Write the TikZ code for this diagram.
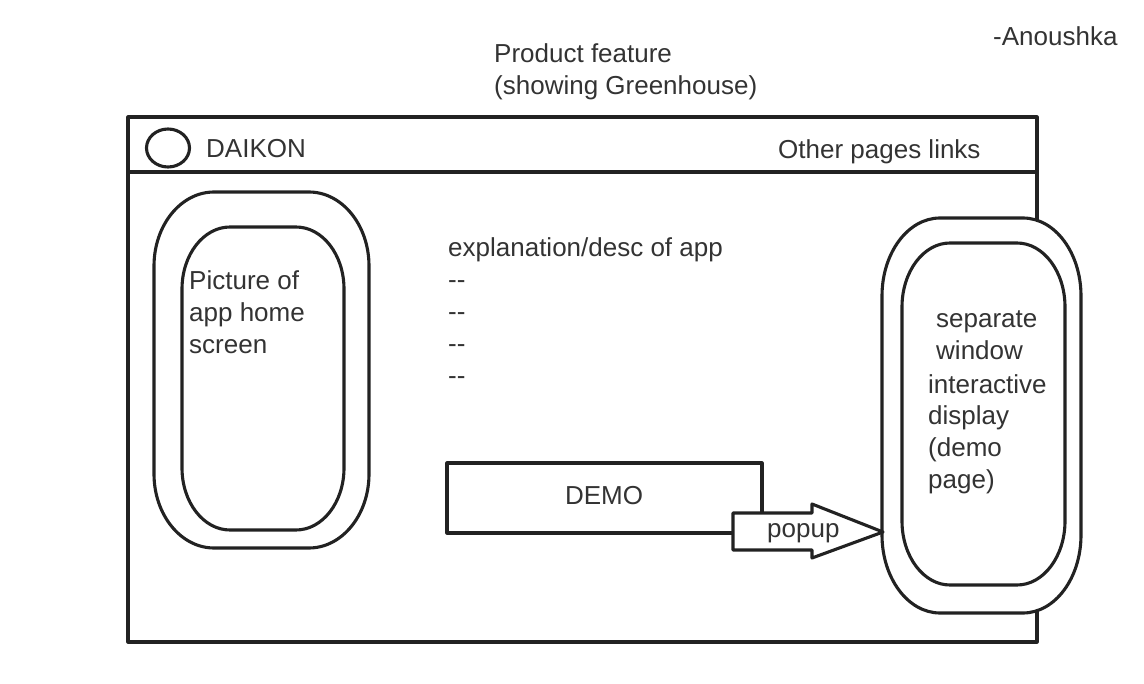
\documentclass[tikz,border=0pt]{standalone}
\usepackage{fontspec}
\setmainfont{Liberation Sans}
\usetikzlibrary{shapes.geometric}
\definecolor{ink}{HTML}{222222}
\definecolor{txt}{HTML}{333333}
\tikzset{
  line/.style={draw=ink, line width=3.1pt, line join=round},
  lbl/.style={text=txt, inner sep=0pt, font=\fontsize{26}{31.8}\selectfont, align=left},
  phonebox/.style={line, fill=white},
}
\newcommand{\dd}{{-}{-}}
% rounded rectangle with elliptical corners: x1,y1,x2,y2,rx,ry
\newcommand{\ellrect}[7][]{%
  \draw[phonebox,#1] (#2+#6,#3) -- (#4-#6,#3)
    arc[start angle=-90, end angle=0, x radius=#6, y radius=#7] -- (#4,#5-#7)
    arc[start angle=0, end angle=90, x radius=#6, y radius=#7] -- (#2+#6,#5)
    arc[start angle=90, end angle=180, x radius=#6, y radius=#7] -- (#2,#3+#7)
    arc[start angle=180, end angle=270, x radius=#6, y radius=#7] -- cycle;}
\begin{document}
\begin{tikzpicture}[x=1pt,y=-1pt]
\useasboundingbox (0,0) rectangle (1144,684);
% page frame
\coordinate (f1) at (128,117);
\coordinate (f2) at (1037,642);
\draw[line] (f1) rectangle (f2);
\draw[line] (128,172) -- (1037,172);
% header
\node[line, ellipse, minimum width=43pt, minimum height=38pt, inner sep=0pt] (logo) at (168,148) {};
\node[lbl, anchor=west] (daikon) at (206,149) {DAIKON};
\node[lbl, anchor=west] (links) at (778,152) {Other pages links};
% title / author
\node[lbl, anchor=west] (title) at (494,72) {Product feature\\(showing Greenhouse)};
\node[lbl, anchor=west] (author) at (993,36) {-Anoushka};
% left phone
\ellrect{154}{192}{369}{548}{60}{74}
\ellrect{182}{227}{344}{530}{48}{62}
\node[lbl, anchor=west] (pic) at (189,312) {Picture of\\app home\\screen};
% description
\node[lbl, anchor=west] (desc) at (448,311) {explanation/desc of app\\\dd\\\dd\\\dd\\\dd};
% right phone
\ellrect{882}{218}{1081}{613}{58}{78}
\ellrect{902}{243}{1065}{585}{48}{64}
\node[lbl, anchor=west] (sep) at (936,335) {separate\\window};
\node[lbl, anchor=west] (inter) at (928,434) {interactive\\display\\(demo\\page)};
% demo button
\node[line, minimum width=315pt, minimum height=70pt, inner sep=0pt] (demo) at (604.5,498) {};
\node[lbl] at (604,496) {DEMO};
% popup arrow
\coordinate (tip) at (883,532);
\draw[line, fill=white] (733,513) -- (812,513) -- (812,504) -- (tip) -- (812,558) -- (812,550) -- (733,550) -- cycle;
\node[lbl, anchor=west] (popup) at (767,533) {popup};
\end{tikzpicture}
\end{document}
